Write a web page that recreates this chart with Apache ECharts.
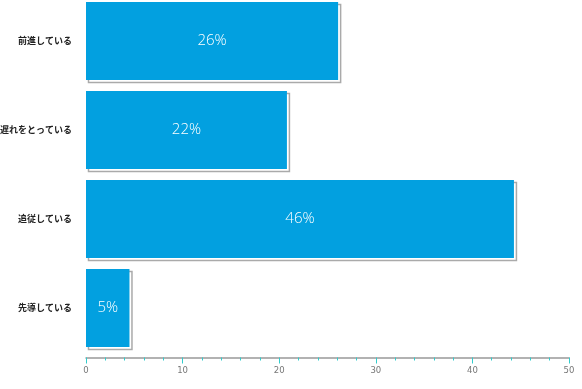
<!DOCTYPE html>
<html><head><meta charset="utf-8">
<script src="https://cdn.jsdelivr.net/npm/echarts@6/dist/echarts.min.js"></script>
<style>html,body{margin:0;padding:0;background:#fff;overflow:hidden}#c{width:582px;height:393px;margin-top:-4px}</style>
</head><body><div id="c"></div>
<script>
const categories = ['前進している', '遅れをとっている', '追従している', '先導している'];
const values = [26.1, 20.8, 44.3, 4.5];
const labels = ['26%', '22%', '46%', '5%'];
const xTicks = [0, 10, 20, 30, 40, 50];

const chart = echarts.init(document.getElementById('c'));
chart.setOption({
  animation: false,
  grid: { left: 86, top: 0.5, height: 356, width: 483, outerBoundsMode: 'none', containLabel: false },
  xAxis: {
    type: 'value', min: xTicks[0], max: xTicks[xTicks.length - 1], interval: 10, offset: 5,
    axisLine: { show: true, lineStyle: { color: '#999', width: 1.5 } },
    axisTick: { show: true, length: 6, lineStyle: { color: '#33cccc', width: 1 } },
    minorTick: { show: true, splitNumber: 5, length: 3, lineStyle: { color: '#33cccc', width: 1 } },
    splitLine: { show: false },
    axisLabel: { color: '#777', fontSize: 8.5, margin: 9, fontFamily: 'DejaVu Sans' }
  },
  yAxis: {
    type: 'category', data: categories, inverse: true,
    axisLine: { show: false }, axisTick: { show: false },
    axisLabel: { color: '#222', fontSize: 9, fontWeight: 'bold', margin: 14, fontFamily: 'Noto Sans CJK JP' }
  },
  series: [{
    type: 'custom',
    data: values.map((v, i) => [v, i]),
    encode: { x: 0, y: 1 },
    clip: false,
    renderItem: function (params, api) {
      const v = api.value(0), idx = api.value(1);
      const s = api.coord([0, idx]);
      const e = api.coord([v, idx]);
      const h = api.size([0, 1])[1] * 0.876;
      const w = e[0] - s[0];
      const y0 = s[1] - h / 2;
      return {
        type: 'group',
        children: [
          { type: 'rect', shape: { x: s[0] + 2.5, y: y0 + 2.5, width: w, height: h },
            style: { fill: '#fff', stroke: '#aaa', lineWidth: 1.5 } },
          { type: 'rect', shape: { x: s[0], y: y0, width: w, height: h },
            style: { fill: '#02a0e0' } },
          { type: 'text', style: { text: labels[params.dataIndex], x: s[0] + w / 2, y: s[1],
            align: 'center', verticalAlign: 'middle', fill: '#fff', fontSize: 15, fontWeight: 300, fontFamily: 'Open Sans' } }
        ]
      };
    }
  }]
});
</script></body></html>
